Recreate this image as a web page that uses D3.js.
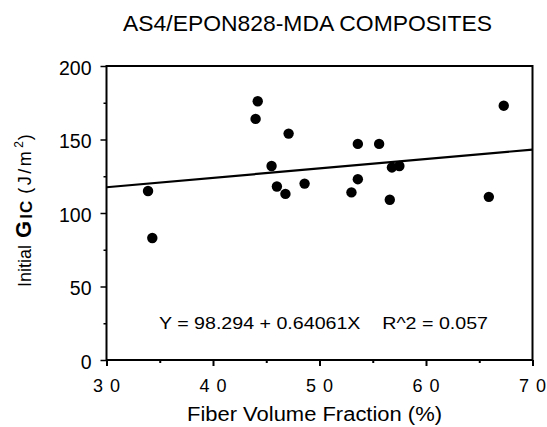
<!DOCTYPE html>
<html><head><meta charset="utf-8">
<script src="https://cdn.jsdelivr.net/npm/d3@7"></script>
<style>body{margin:0;background:#fff}svg{display:block}text{font-family:"Liberation Sans",Arial,Helvetica,sans-serif;fill:#000}</style>
</head><body>
<script>
const fiberVolume = [33.9, 34.3, 44.0, 44.2, 45.5, 46.0, 46.8, 47.1, 48.6, 53.0, 53.6, 53.6, 55.6, 56.6, 56.8, 57.5, 65.9, 67.3];
const initialGIC  = [115, 83, 164, 176, 132, 118, 113, 154, 120, 114, 147, 123, 147, 109, 131, 132, 111, 173];
const fitIntercept = 98.294, fitSlope = 0.64061;
const xTicks = [30, 40, 50, 60, 70];
const xMinorTicks = [35, 45, 55, 65];
const yTicks = [0, 50, 100, 150, 200];
const yMinorTicks = [25, 75, 125, 175];
const xTickLabels = ["3 0", "4 0", "5 0", "6 0", "7 0"];

const W = 547, H = 427;
const svg = d3.select("body").append("svg").attr("width", W).attr("height", H);
const x = d3.scaleLinear().domain([30, 70]).range([106.5, 532.5]);
const y = d3.scaleLinear().domain([0, 200]).range([360, 66]);

// frame
svg.append("rect").attr("x", x(30)).attr("y", y(200)).attr("width", x(70) - x(30)).attr("height", y(0) - y(200))
  .attr("fill", "none").attr("stroke", "#000").attr("stroke-width", 2);

// axes
const xAxis = svg.append("g").attr("transform", `translate(0,${y(0)})`)
  .call(d3.axisBottom(x).tickValues(xTicks).tickSize(6).tickFormat((d, i) => xTickLabels[i]));
xAxis.select(".domain").remove();
xAxis.selectAll("line").attr("stroke-width", 2);
xAxis.selectAll("text").attr("font-size", 18).attr("dy", null).attr("y", 32).attr("letter-spacing", 1);
svg.append("g").attr("transform", `translate(0,${y(0)})`)
  .call(d3.axisBottom(x).tickValues(xMinorTicks).tickSize(3).tickFormat(""))
  .call(g => g.select(".domain").remove()).selectAll("line").attr("stroke-width", 2);

const yAxis = svg.append("g").attr("transform", `translate(${x(30)},0)`)
  .call(d3.axisLeft(y).tickValues(yTicks).tickSize(6).tickPadding(9));
yAxis.select(".domain").remove();
yAxis.selectAll("line").attr("stroke-width", 1.5);
yAxis.selectAll("text").attr("font-size", 19.5).attr("dy", "0.42em");
svg.append("g").attr("transform", `translate(${x(30)},0)`)
  .call(d3.axisLeft(y).tickValues(yMinorTicks).tickSize(3).tickFormat(""))
  .call(g => g.select(".domain").remove()).selectAll("line").attr("stroke-width", 1.5);

// fit line
svg.append("line")
  .attr("x1", x(30)).attr("y1", y(fitIntercept + fitSlope * 30))
  .attr("x2", x(70)).attr("y2", y(fitIntercept + fitSlope * 70))
  .attr("stroke", "#000").attr("stroke-width", 2.2);

// points
svg.append("g").selectAll("circle").data(fiberVolume).join("circle")
  .attr("cx", d => x(d)).attr("cy", (d, i) => y(initialGIC[i])).attr("r", 5.2).attr("fill", "#000");

// title
svg.append("text").attr("x", 307.5).attr("y", 31).attr("text-anchor", "middle").attr("font-size", 22)
  .attr("textLength", 369).attr("lengthAdjust", "spacingAndGlyphs")
  .text("AS4/EPON828-MDA COMPOSITES");

// equation
svg.append("text").attr("x", 159).attr("y", 329).attr("font-size", 17).attr("xml:space", "preserve")
  .attr("textLength", 329).attr("lengthAdjust", "spacingAndGlyphs")
  .text("Y = 98.294 + 0.64061X    R^2 = 0.057");

// x title
svg.append("text").attr("x", 314.5).attr("y", 421).attr("text-anchor", "middle").attr("font-size", 20)
  .attr("textLength", 255).attr("lengthAdjust", "spacingAndGlyphs").text("Fiber Volume Fraction (%)");

// y title: pieces laid out sequentially in a rotated group
const yg = svg.append("g").attr("transform", "translate(31,287) rotate(-90)");
const pieces = [
  {t: "Initial", fs: 18, fw: "normal", dy: 0, gap: 7},
  {t: "G", fs: 22, fw: "bold", dy: 0, gap: 2},
  {t: "IC", fs: 17, fw: "bold", dy: 1, gap: 6, ls: 1},
  {t: "(J/m", fs: 18, fw: "normal", dy: 0, gap: 1, ls: 2.5},
  {t: "2", fs: 12, fw: "normal", dy: -8, gap: 1},
  {t: ")", fs: 18, fw: "normal", dy: 0, gap: 0}
];
let cx = 0;
pieces.forEach(p => {
  const t = yg.append("text").attr("x", cx).attr("y", p.dy).attr("font-size", p.fs)
    .attr("font-weight", p.fw).attr("letter-spacing", p.ls || 0).text(p.t);
  cx += t.node().getComputedTextLength() + p.gap;
});
</script>
</body></html>
